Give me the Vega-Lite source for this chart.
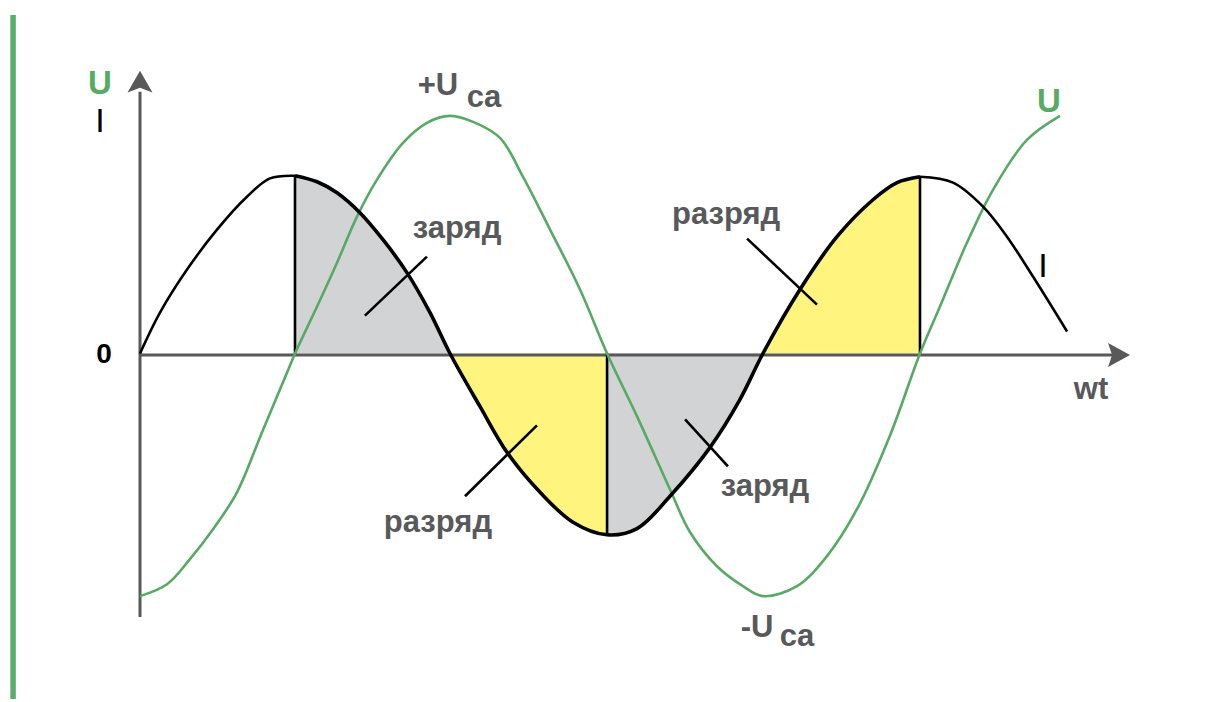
{
  "$schema": "https://vega.github.io/schema/vega-lite/v6.json",
  "width": 1209,
  "height": 702,
  "autosize": {"type": "fit", "contains": "padding"},
  "padding": 0,
  "background": "white",
  "config": {"view": {"stroke": null}},
  "datasets": {
    "current": [
      {"seg": "a", "wt": 0, "a": 0},
      {"seg": "a", "wt": 11.6, "a": 0.23},
      {"seg": "a", "wt": 27.3, "a": 0.472},
      {"seg": "a", "wt": 44.7, "a": 0.697},
      {"seg": "a", "wt": 62.1, "a": 0.882},
      {"seg": "a", "wt": 75.5, "a": 0.985},
      {"seg": "a", "wt": 90, "a": 1.0},
      {"seg": "b", "wt": 90, "a": 1.0},
      {"seg": "b", "wt": 102.8, "a": 0.966},
      {"seg": "b", "wt": 114.4, "a": 0.904},
      {"seg": "b", "wt": 127.7, "a": 0.792},
      {"seg": "b", "wt": 141.1, "a": 0.64},
      {"seg": "b", "wt": 155, "a": 0.455},
      {"seg": "b", "wt": 168.4, "a": 0.23},
      {"seg": "b", "wt": 180, "a": 0},
      {"seg": "b", "wt": 197.4, "a": -0.298},
      {"seg": "b", "wt": 213.1, "a": -0.556},
      {"seg": "b", "wt": 232.3, "a": -0.781},
      {"seg": "b", "wt": 251.4, "a": -0.949},
      {"seg": "b", "wt": 271.2, "a": -1.02},
      {"seg": "b", "wt": 288.6, "a": -0.985},
      {"seg": "b", "wt": 307.7, "a": -0.803},
      {"seg": "b", "wt": 331, "a": -0.528},
      {"seg": "b", "wt": 348.4, "a": -0.258},
      {"seg": "b", "wt": 361.7, "a": 0},
      {"seg": "b", "wt": 383.2, "a": 0.36},
      {"seg": "b", "wt": 404.7, "a": 0.657},
      {"seg": "b", "wt": 425.6, "a": 0.865},
      {"seg": "b", "wt": 439.6, "a": 0.961},
      {"seg": "b", "wt": 452.9, "a": 0.994},
      {"seg": "c", "wt": 452.9, "a": 0.994},
      {"seg": "c", "wt": 472.1, "a": 0.961},
      {"seg": "c", "wt": 489.5, "a": 0.826},
      {"seg": "c", "wt": 503.4, "a": 0.657},
      {"seg": "c", "wt": 518.5, "a": 0.433},
      {"seg": "c", "wt": 538.3, "a": 0.124}
    ],
    "fills": [
      {"seg": "g1", "kind": "заряд", "wt": 90, "a": 1.0},
      {"seg": "g1", "kind": "заряд", "wt": 102.8, "a": 0.966},
      {"seg": "g1", "kind": "заряд", "wt": 114.4, "a": 0.904},
      {"seg": "g1", "kind": "заряд", "wt": 127.7, "a": 0.792},
      {"seg": "g1", "kind": "заряд", "wt": 141.1, "a": 0.64},
      {"seg": "g1", "kind": "заряд", "wt": 155, "a": 0.455},
      {"seg": "g1", "kind": "заряд", "wt": 168.4, "a": 0.23},
      {"seg": "g1", "kind": "заряд", "wt": 180, "a": 0},
      {"seg": "y1", "kind": "разряд", "wt": 180, "a": 0},
      {"seg": "y1", "kind": "разряд", "wt": 197.4, "a": -0.298},
      {"seg": "y1", "kind": "разряд", "wt": 213.1, "a": -0.556},
      {"seg": "y1", "kind": "разряд", "wt": 232.3, "a": -0.781},
      {"seg": "y1", "kind": "разряд", "wt": 251.4, "a": -0.949},
      {"seg": "y1", "kind": "разряд", "wt": 271.2, "a": -1.02},
      {"seg": "g2", "kind": "заряд", "wt": 271.2, "a": -1.02},
      {"seg": "g2", "kind": "заряд", "wt": 288.6, "a": -0.985},
      {"seg": "g2", "kind": "заряд", "wt": 307.7, "a": -0.803},
      {"seg": "g2", "kind": "заряд", "wt": 331, "a": -0.528},
      {"seg": "g2", "kind": "заряд", "wt": 348.4, "a": -0.258},
      {"seg": "g2", "kind": "заряд", "wt": 361.7, "a": 0},
      {"seg": "y2", "kind": "разряд", "wt": 361.7, "a": 0},
      {"seg": "y2", "kind": "разряд", "wt": 383.2, "a": 0.36},
      {"seg": "y2", "kind": "разряд", "wt": 404.7, "a": 0.657},
      {"seg": "y2", "kind": "разряд", "wt": 425.6, "a": 0.865},
      {"seg": "y2", "kind": "разряд", "wt": 439.6, "a": 0.961},
      {"seg": "y2", "kind": "разряд", "wt": 452.9, "a": 0.994}
    ],
    "voltage": [
      {"wt": 0, "a": -1.365},
      {"wt": 15.7, "a": -1.298},
      {"wt": 29.0, "a": -1.157},
      {"wt": 42.4, "a": -0.989},
      {"wt": 56.3, "a": -0.781},
      {"wt": 70.8, "a": -0.444},
      {"wt": 85.4, "a": -0.107},
      {"wt": 90.0, "a": 0},
      {"wt": 102.8, "a": 0.264},
      {"wt": 114.4, "a": 0.511},
      {"wt": 126.0, "a": 0.77},
      {"wt": 137.6, "a": 0.978},
      {"wt": 152.7, "a": 1.185},
      {"wt": 166.6, "a": 1.298},
      {"wt": 180.0, "a": 1.337},
      {"wt": 193.4, "a": 1.303},
      {"wt": 209.0, "a": 1.213},
      {"wt": 222.4, "a": 0.994},
      {"wt": 238.1, "a": 0.697},
      {"wt": 255.5, "a": 0.36},
      {"wt": 271.2, "a": 0},
      {"wt": 288.6, "a": -0.354},
      {"wt": 307.7, "a": -0.764},
      {"wt": 319.4, "a": -1.006},
      {"wt": 335.0, "a": -1.197},
      {"wt": 350.1, "a": -1.309},
      {"wt": 361.7, "a": -1.365},
      {"wt": 381.5, "a": -1.309},
      {"wt": 398.9, "a": -1.14},
      {"wt": 416.3, "a": -0.876},
      {"wt": 435.5, "a": -0.461},
      {"wt": 452.9, "a": 0},
      {"wt": 464.5, "a": 0.264},
      {"wt": 480.2, "a": 0.624},
      {"wt": 495.3, "a": 0.921},
      {"wt": 515.0, "a": 1.202},
      {"wt": 534.2, "a": 1.337}
    ],
    "axes": [
      {"wt": 0, "a": -0.008, "wt2": 566.1, "a2": -0.008},
      {"wt": 0, "a": -1.483, "wt2": 0, "a2": 1.472}
    ],
    "drops": [
      {"wt": 90, "a": 0, "a2": 1.0},
      {"wt": 271.2, "a": 0, "a2": -1.02},
      {"wt": 452.9, "a": 0, "a2": 0.994}
    ],
    "leaders": [
      {"wt": 130.6, "a": 0.213, "wt2": 166.6, "a2": 0.545},
      {"wt": 188.7, "a": -0.803, "wt2": 230.5, "a2": -0.404},
      {"wt": 316.5, "a": -0.371, "wt2": 341.4, "a2": -0.635},
      {"wt": 352.5, "a": 0.646, "wt2": 393.1, "a2": 0.275}
    ],
    "border": [
      {"wt": -73.7, "a": 1.904, "a2": -1.944}
    ],
    "grayLabels": [
      {"label": "+U", "wt": 173.0, "a": 1.455},
      {"label": "ca", "wt": 199.7, "a": 1.388},
      {"label": "-U", "wt": 358.3, "a": -1.596},
      {"label": "ca", "wt": 381.5, "a": -1.646},
      {"label": "wt", "wt": 552.2, "a": -0.258},
      {"label": "заряд", "wt": 184.1, "a": 0.652},
      {"label": "разряд", "wt": 340.3, "a": 0.73},
      {"label": "разряд", "wt": 173.0, "a": -1.006},
      {"label": "заряд", "wt": 362.9, "a": -0.803}
    ],
    "greenLabels": [
      {"label": "U", "wt": -23.2, "a": 1.458},
      {"label": "U", "wt": 527.8, "a": 1.36}
    ],
    "blackLabels": [
      {"label": "I", "wt": -23.2, "a": 1.247},
      {"label": "I", "wt": 524.3, "a": 0.433}
    ],
    "origin": [
      {"label": "0", "wt": -20.9, "a": -0.056}
    ],
    "arrowRight": [{"wt": 567.9, "a": -0.008}],
    "arrowUp": [{"wt": 0, "a": 1.52}]
  },
  "encoding": {
    "x": {"field": "wt", "type": "quantitative", "scale": {"domain": [-81.29, 620.71], "nice": false, "zero": false}, "axis": null},
    "y": {"field": "a", "type": "quantitative", "scale": {"domain": [-1.95506, 1.98876], "nice": false, "zero": false}, "axis": null}
  },
  "layer": [
    {
      "data": {"name": "fills"},
      "mark": {"type": "area", "interpolate": "catmull-rom"},
      "encoding": {
        "y2": {"datum": 0},
        "detail": {"field": "seg"},
        "color": {"field": "kind", "type": "nominal", "scale": {"domain": ["заряд", "разряд"], "range": ["#d1d3d4", "#fff57e"]}, "legend": null}
      }
    },
    {
      "data": {"name": "axes"},
      "mark": {"type": "rule", "color": "#59595b", "strokeWidth": 3},
      "encoding": {"x2": {"field": "wt2"}, "y2": {"field": "a2"}}
    },
    {
      "data": {"name": "border"},
      "mark": {"type": "rule", "color": "#5aae6b", "strokeWidth": 5.5},
      "encoding": {"y2": {"field": "a2"}}
    },
    {
      "data": {"name": "drops"},
      "mark": {"type": "rule", "color": "#000000", "strokeWidth": 2.6},
      "encoding": {"y2": {"field": "a2"}}
    },
    {
      "data": {"name": "voltage"},
      "mark": {"type": "line", "interpolate": "catmull-rom", "color": "#57a964", "strokeWidth": 2.6},
      "encoding": {}
    },
    {
      "data": {"name": "current"},
      "transform": [{"filter": "datum.seg !== 'b'"}],
      "mark": {"type": "line", "interpolate": "catmull-rom", "color": "#000000", "strokeWidth": 2.6},
      "encoding": {"detail": {"field": "seg"}}
    },
    {
      "data": {"name": "current"},
      "transform": [{"filter": "datum.seg === 'b'"}],
      "mark": {"type": "line", "interpolate": "catmull-rom", "color": "#000000", "strokeWidth": 3.6},
      "encoding": {}
    },
    {
      "data": {"name": "leaders"},
      "mark": {"type": "rule", "color": "#000000", "strokeWidth": 2.6},
      "encoding": {"x2": {"field": "wt2"}, "y2": {"field": "a2"}}
    },
    {
      "data": {"name": "arrowRight"},
      "mark": {"type": "point", "filled": true, "opacity": 1, "color": "#59595b", "size": 576, "shape": "M -0.83 -1 L 1 0 L -0.83 1 L -0.5 0 Z"},
      "encoding": {}
    },
    {
      "data": {"name": "arrowUp"},
      "mark": {"type": "point", "filled": true, "opacity": 1, "color": "#59595b", "size": 625, "shape": "M 0 -1 L 1 0.74 L 0 0.36 L -1 0.74 Z"},
      "encoding": {}
    },
    {
      "data": {"name": "grayLabels"},
      "mark": {"type": "text", "align": "center", "baseline": "alphabetic", "font": "Liberation Sans, Arial, sans-serif", "fontWeight": "bold", "fontSize": 31, "color": "#58595b"},
      "encoding": {"text": {"field": "label"}}
    },
    {
      "data": {"name": "greenLabels"},
      "mark": {"type": "text", "align": "center", "baseline": "alphabetic", "font": "Liberation Sans, Arial, sans-serif", "fontWeight": "bold", "fontSize": 33, "color": "#57ab63"},
      "encoding": {"text": {"field": "label"}}
    },
    {
      "data": {"name": "blackLabels"},
      "mark": {"type": "text", "align": "center", "baseline": "alphabetic", "font": "Liberation Sans, Arial, sans-serif", "fontSize": 34, "color": "#000000"},
      "encoding": {"text": {"field": "label"}}
    },
    {
      "data": {"name": "origin"},
      "mark": {"type": "text", "align": "center", "baseline": "alphabetic", "font": "Liberation Sans, Arial, sans-serif", "fontWeight": "bold", "fontSize": 28, "color": "#000000"},
      "encoding": {"text": {"field": "label"}}
    }
  ]
}
